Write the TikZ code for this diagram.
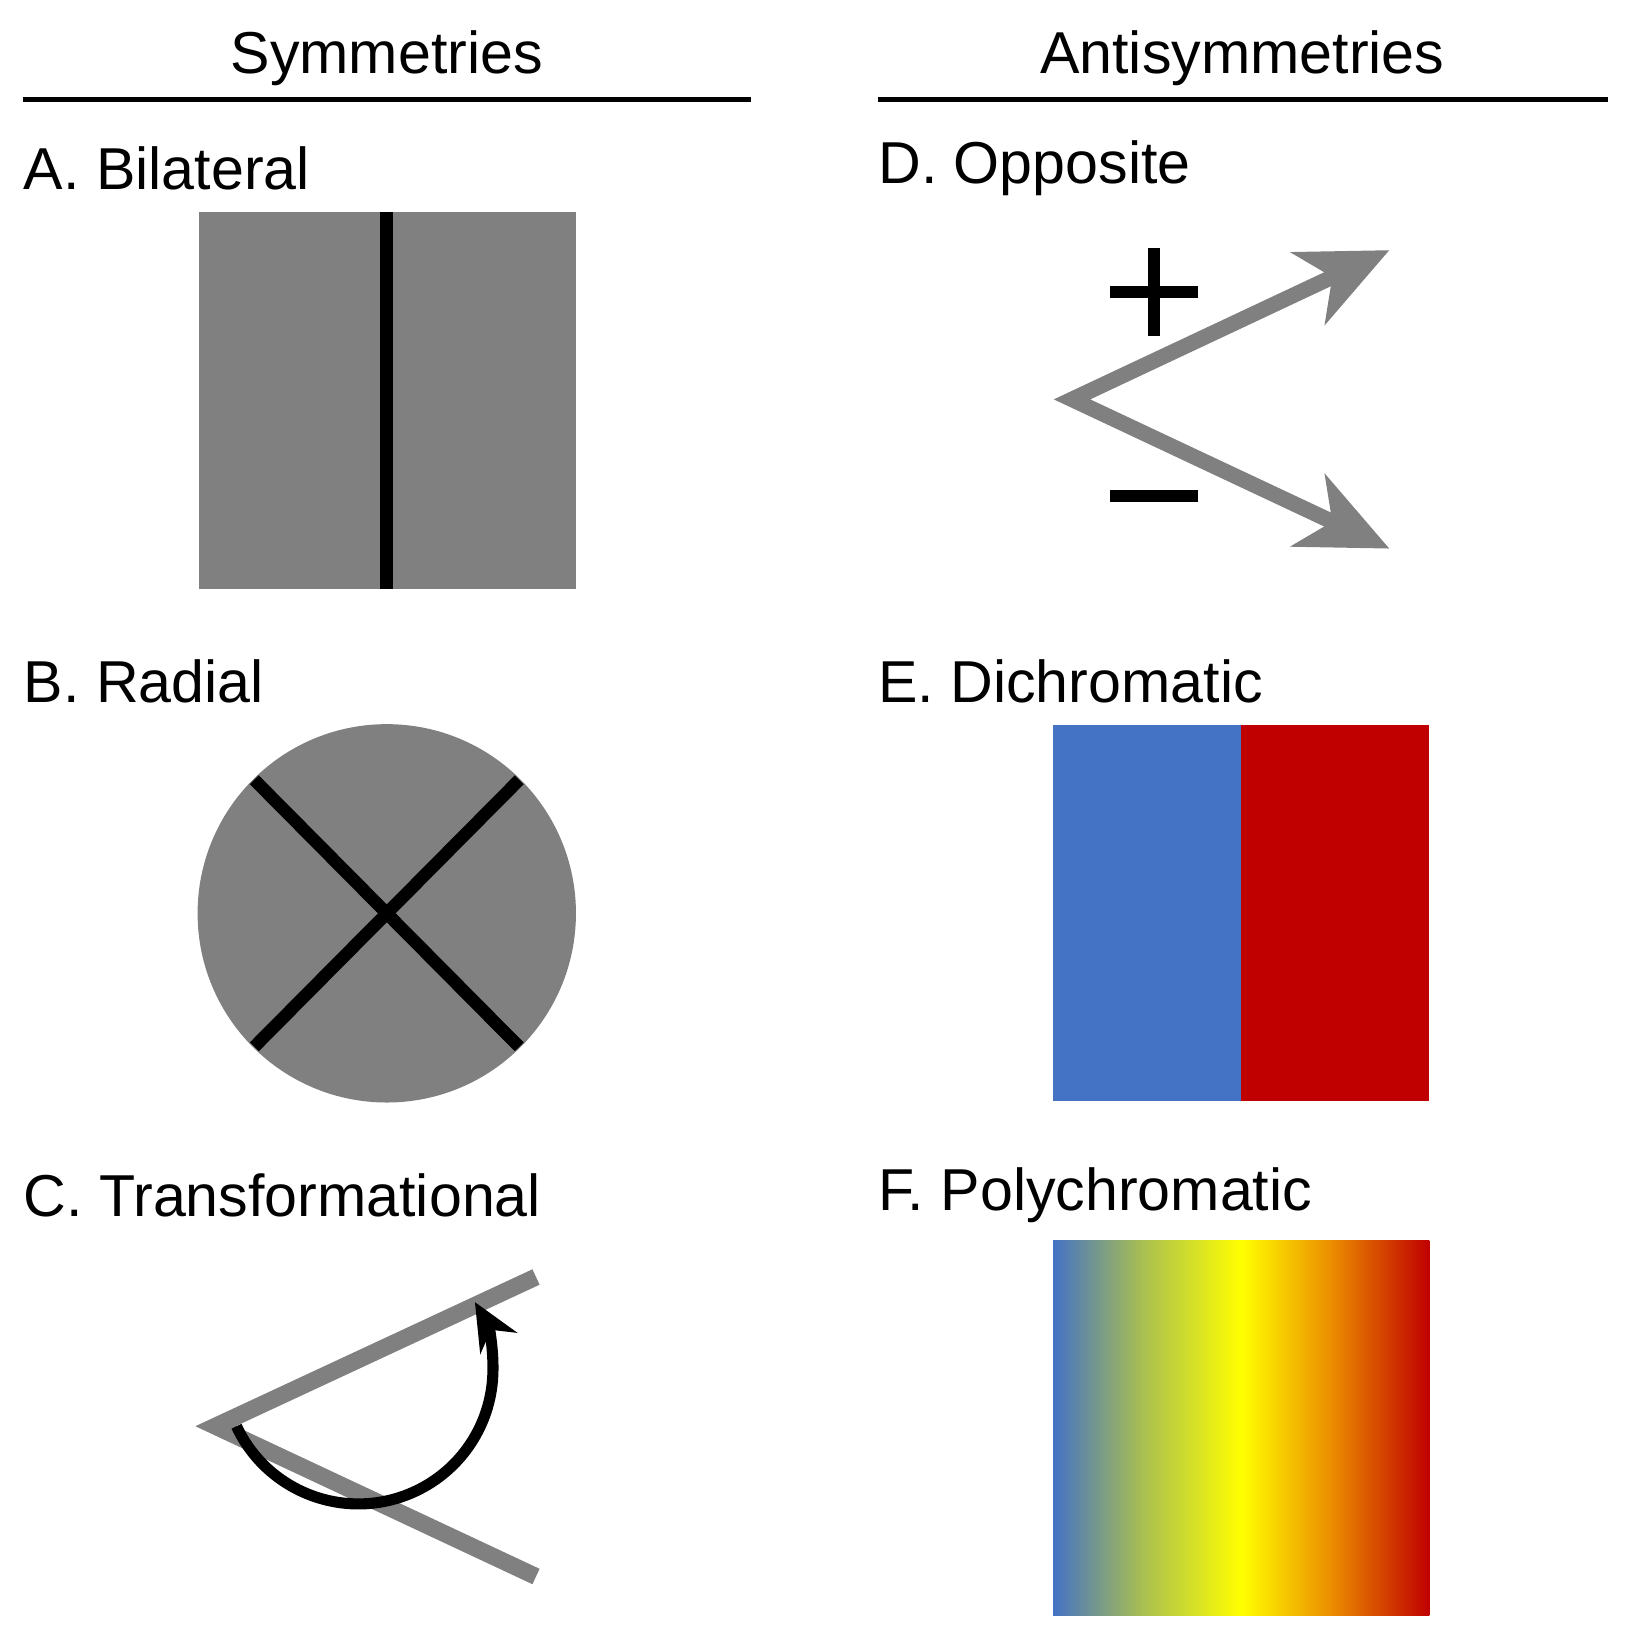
\documentclass[tikz,border=0pt]{standalone}
\usepackage{fontspec}
\setmainfont{Liberation Sans}
\usetikzlibrary{arrows.meta}
\definecolor{cgrey}{RGB}{128,128,128}
\definecolor{cblue}{RGB}{68,114,196}
\definecolor{cred}{RGB}{192,0,0}
\definecolor{cgreen}{RGB}{170,192,80}
\definecolor{corange}{RGB}{235,140,0}
\pgfdeclarehorizontalshading{poly}{100bp}{color(0bp)=(cblue); color(25bp)=(cblue); color(37bp)=(cgreen); color(50bp)=(yellow); color(62bp)=(corange); color(75bp)=(cred); color(100bp)=(cred)}
\begin{document}
\begin{tikzpicture}[x=0.01cm, y=0.01cm, >=Stealth]
    \tikzstyle{head}=[font=\fontsize{16}{19}\selectfont]
    \tikzstyle{lbl}=[anchor=west, inner sep=0pt, font=\fontsize{16}{19}\selectfont]
    \tikzstyle{bar}=[line width=1.4pt]
    \tikzstyle{cut}=[line width=3.4pt, black]
    \tikzstyle{ray}=[line width=4.2pt, cgrey]
    \useasboundingbox (0,0) rectangle (1547,1568);

    % headers
    \node[head] (sym) at (368,1513) {Symmetries};
    \node[head] (anti) at (1182,1513) {Antisymmetries};
    \draw[bar] (22,1473) -- (715,1473);
    \draw[bar] (835,1473) -- (1530,1473);

    % A. Bilateral
    \node[lbl] (la) at (22,1408) {A. Bilateral};
    \fill[cgrey] (189,1008) rectangle (548,1366);
    \draw[cut] (368,1008) -- (368,1366);

    % B. Radial
    \node[lbl] (lb) at (22,920) {B. Radial};
    \fill[cgrey] (368,699) circle (180);
    \draw[cut] (242,826) -- (494,572);
    \draw[cut] (494,826) -- (242,572);

    % C. Transformational
    \node[lbl] (lc) at (22,431) {C. Transformational};
    \coordinate (cv) at (205,211);
    \draw[ray, line width=4.6pt] (510,353) -- (cv) -- (510,68);
    \draw[line width=3pt, -{Stealth[length=0.45cm, width=0.4cm]}] (225,211) arc (205:390:128);

    % D. Opposite
    \node[lbl] (ld) at (835,1408) {D. Opposite};
    \coordinate (dv) at (1020,1188);
    \coordinate (dup) at (1322,1330);
    \coordinate (ddn) at (1322,1046);
    \draw[ray, {Stealth[length=0.85cm, width=0.75cm, inset=0.25cm]}-{Stealth[length=0.85cm, width=0.75cm, inset=0.25cm]}] (dup) -- (dv) -- (ddn);
    \draw[line width=3.4pt] (1056,1290) -- (1140,1290) (1098,1248) -- (1098,1332);
    \draw[line width=3.4pt] (1056,1096) -- (1140,1096);

    % E. Dichromatic
    \node[lbl] (le) at (835,920) {E. Dichromatic};
    \fill[cblue] (1002,520) rectangle (1181,878);
    \fill[cred] (1181,520) rectangle (1360,878);

    % F. Polychromatic
    \node[lbl] (lf) at (835,431) {F. Polychromatic};
    \shade[shading=poly] (1002,31) rectangle (1360,388);
\end{tikzpicture}
\end{document}
